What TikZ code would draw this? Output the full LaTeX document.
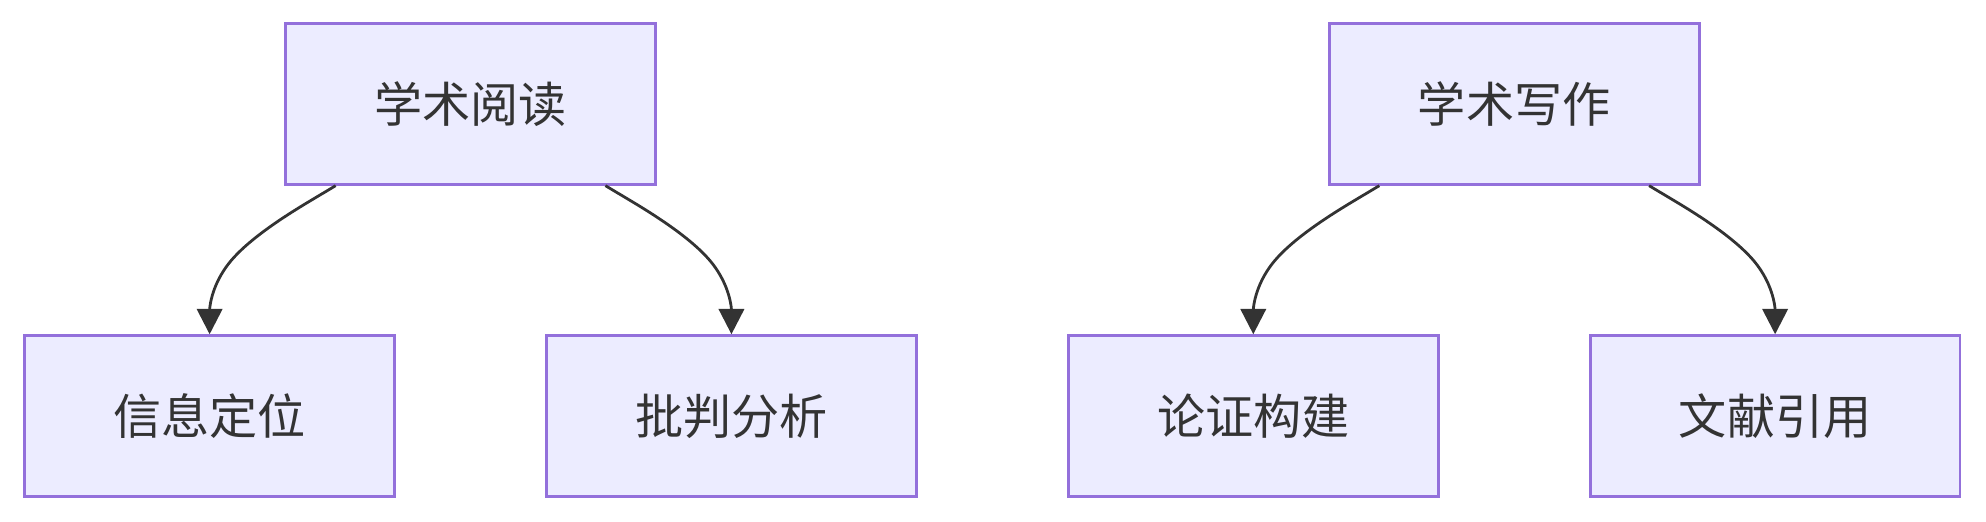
\documentclass[tikz,border=0pt]{standalone}
\usepackage{fontspec}
\newfontfamily\cjk{Noto Sans CJK SC}
\usetikzlibrary{arrows.meta,calc}
\definecolor{boxfill}{HTML}{ECECFF}
\definecolor{boxline}{HTML}{9370DB}
\definecolor{ink}{HTML}{333333}
\tikzset{
  mbox/.style={draw=boxline, fill=boxfill, line width=1.1pt, minimum width=146pt, minimum height=63.5pt, inner sep=0pt, text=ink, font=\cjk\fontsize{19pt}{22pt}\selectfont},
  link/.style={draw=ink, line width=1.1pt, -{Triangle[width=10pt,length=10pt]}}
}
\begin{document}
\begin{tikzpicture}[x=0.5pt,y=-0.5pt]
\useasboundingbox (0,0) rectangle (1568,412);
\node[mbox] (read) at (371.5,82) {学术阅读};
\node[mbox] (write) at (1195.5,82) {学术写作};
\node[mbox] (locate) at (165.5,328.5) {信息定位};
\node[mbox] (critic) at (577.5,328.5) {批判分析};
\node[mbox] (argue) at (989.5,328.5) {论证构建};
\node[mbox] (cite) at (1401.5,328.5) {文献引用};
\foreach \p/\c/\s in {read/locate/-1, read/critic/1, write/argue/-1, write/cite/1}{
  \coordinate (st) at ([xshift=\s*53.25pt]\p.south);
  \draw[link] (st) -- ($(st)+(\s*16.6,9.9)$)
    .. controls ($(st)+(\s*33.2,19.8)$) and ($(st)+(\s*66.3,39.7)$) .. ($(st)+(\s*82.9,59.6)$)
    .. controls ($(st)+(\s*99.5,79.5)$) and ($(st)+(\s*99.5,99.5)$) .. (\c.north);
}
\end{tikzpicture}
\end{document}
